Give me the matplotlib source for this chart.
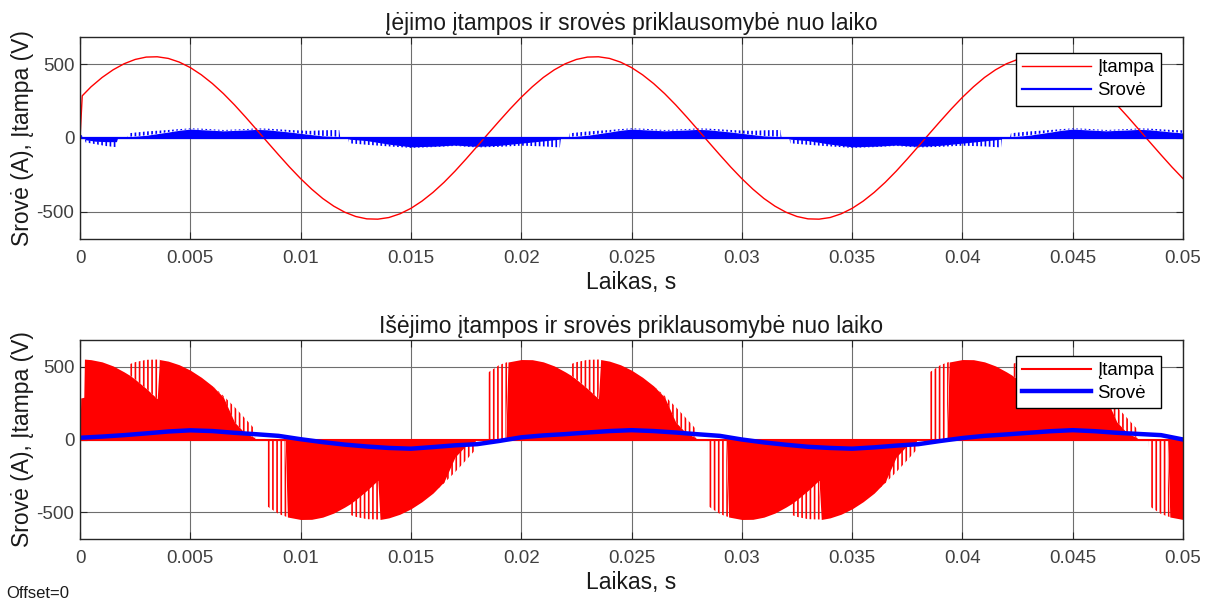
import numpy as np
import matplotlib
matplotlib.use('Agg')
import matplotlib.pyplot as plt

plt.rcParams['font.family'] = ['Liberation Sans', 'DejaVu Sans']
plt.rcParams['axes.unicode_minus'] = False
plt.rcParams['hatch.linewidth'] = 1.2

# ---- input voltage (top, red), read every 0.5 ms, with the start-up jump ----
vin_ms = [0.0, 0.1] + [0.5 * k for k in range(1, 101)]
vin = [0, 285,
       346, 409, 461, 502, 531, 547, 549, 538, 513, 476,
       427, 368, 300, 224, 142, 57, -29, -114, -197, -275,
       -346, -409, -461, -502, -531, -547, -549, -538, -513, -476,
       -427, -368, -300, -224, -142, -57, 29, 114, 197, 275,
       346, 409, 461, 502, 531, 547, 549, 538, 513, 476,
       427, 368, 300, 224, 142, 57, -29, -114, -197, -275,
       -346, -409, -461, -502, -531, -547, -549, -538, -513, -476,
       -427, -368, -300, -224, -142, -57, 29, 114, 197, 275,
       346, 409, 461, 502, 531, 547, 549, 538, 513, 476,
       427, 368, 300, 224, 142, 57, -29, -114, -197, -275]

# ---- input current (top, blue): pulse tops and solid part of the band ----
iin_ms = [0.0, 0.02, 0.15, 0.2, 0.25, 0.7, 1.2, 1.65, 1.7, 2.15,
          2.2, 3.0, 4.0, 4.5, 5.0, 5.5, 6.5, 7.5, 8.0, 8.5, 9.5, 10.4, 11.0, 11.75, 11.8, 12.15,
          12.2, 13.0, 14.0, 15.0, 16.0, 17.0, 18.0, 19.0, 20.0, 21.0, 21.75, 21.8, 22.15,
          22.2, 23.0, 24.0, 24.5, 25.0, 25.5, 26.5, 27.5, 28.0, 28.5, 29.5, 30.4, 31.0, 31.75, 31.8, 32.15,
          32.2, 33.0, 34.0, 35.0, 36.0, 37.0, 38.0, 39.0, 40.0, 41.0, 41.75, 41.8, 42.15,
          42.2, 43.0, 44.0, 44.5, 45.0, 45.5, 46.5, 47.5, 48.0, 48.5, 49.5, 50.0]
iin_peak = [0, 22, 15, 0, -30, -42, -55, -62, 0, 0,
            32, 44, 54, 60, 65, 63, 54, 60, 65, 63, 54, 48, 52, 54, 0, 0,
            -36, -46, -57, -67, -62, -54, -64, -60, -52, -57, -64, 0, 0,
            32, 44, 54, 60, 65, 63, 54, 60, 65, 63, 54, 48, 52, 54, 0, 0,
            -36, -46, -57, -67, -62, -54, -64, -60, -52, -57, -64, 0, 0,
            32, 44, 54, 60, 65, 63, 54, 60, 65, 63, 54, 52]
iin_fill = [0, 22, 0, 0, -12, -22, -25, -25, 0, 0,
            8, 18, 40, 52, 60, 56, 48, 54, 58, 55, 40, 24, 14, 8, 0, 0,
            -8, -18, -42, -60, -56, -48, -57, -50, -35, -20, -8, 0, 0,
            8, 18, 40, 52, 60, 56, 48, 54, 58, 55, 40, 24, 14, 8, 0, 0,
            -8, -18, -42, -60, -56, -48, -57, -50, -35, -20, -8, 0, 0,
            8, 18, 40, 52, 60, 56, 48, 54, 58, 55, 40, 34]

# ---- output voltage (bottom, red PWM): pulse tops and solid part ----
vout_ms = [0.0, 0.03, 0.17, 0.2, 0.5, 1.0, 1.5, 2.0, 2.24, 2.26, 2.5, 3.0, 3.5, 3.6,
           4.0, 4.5, 5.0, 5.5, 6.0, 6.5, 7.0, 7.5, 7.9, 7.95, 8.45,
           8.5, 9.0, 9.3, 9.4, 10.0, 10.5, 11.0, 11.5, 12.0, 12.24, 12.26, 12.5, 13.0, 13.5, 13.6,
           14.0, 14.5, 15.0, 15.5, 16.0, 16.5, 17.0, 17.5, 17.9, 17.95, 18.45,
           18.5, 19.0, 19.3, 19.4, 20.0, 20.5, 21.0, 21.5, 22.0, 22.24, 22.26, 22.5, 23.0, 23.5, 23.6,
           24.0, 24.5, 25.0, 25.5, 26.0, 26.5, 27.0, 27.5, 27.9, 27.95, 28.45,
           28.5, 29.0, 29.3, 29.4, 30.0, 30.5, 31.0, 31.5, 32.0, 32.24, 32.26, 32.5, 33.0, 33.5, 33.6,
           34.0, 34.5, 35.0, 35.5, 36.0, 36.5, 37.0, 37.5, 37.9, 37.95, 38.45,
           38.5, 39.0, 39.3, 39.4, 40.0, 40.5, 41.0, 41.5, 42.0, 42.24, 42.26, 42.5, 43.0, 43.5, 43.6,
           44.0, 44.5, 45.0, 45.5, 46.0, 46.5, 47.0, 47.5, 47.9, 47.95, 48.45,
           48.5, 49.0, 49.3, 49.4, 50.0]
vout_peak = [0, 285, 290, 552, 548, 533, 505, 464, 442, 518, 531, 547, 549, 549,
             538, 513, 476, 427, 368, 300, 224, 142, 75, 0, 0,
             -460, -511, -528, -532, -549, -548, -533, -505, -464, -442, -518, -531, -547, -549, -549,
             -538, -513, -476, -427, -368, -300, -224, -142, -75, 0, 0,
             460, 511, 528, 532, 549, 548, 533, 505, 464, 442, 518, 531, 547, 549, 549,
             538, 513, 476, 427, 368, 300, 224, 142, 75, 0, 0,
             -460, -511, -528, -532, -549, -548, -533, -505, -464, -442, -518, -531, -547, -549, -549,
             -538, -513, -476, -427, -368, -300, -224, -142, -75, 0, 0,
             460, 511, 528, 532, 549, 548, 533, 505, 464, 442, 518, 531, 547, 549, 549,
             538, 513, 476, 427, 368, 300, 224, 142, 75, 0, 0,
             -460, -511, -528, -532, -549]
vout_fill = [0, 285, 290, 552, 548, 533, 505, 464, 442, 440, 413, 350, 280, 549,
             538, 513, 476, 427, 368, 290, 120, 40, 15, 0, 0,
             0, 0, 0, -532, -549, -548, -533, -505, -464, -442, -440, -413, -350, -280, -549,
             -538, -513, -476, -427, -368, -290, -120, -40, -15, 0, 0,
             0, 0, 0, 532, 549, 548, 533, 505, 464, 442, 440, 413, 350, 280, 549,
             538, 513, 476, 427, 368, 290, 120, 40, 15, 0, 0,
             0, 0, 0, -532, -549, -548, -533, -505, -464, -442, -440, -413, -350, -280, -549,
             -538, -513, -476, -427, -368, -290, -120, -40, -15, 0, 0,
             0, 0, 0, 532, 549, 548, 533, 505, 464, 442, 440, 413, 350, 280, 549,
             538, 513, 476, 427, 368, 290, 120, 40, 15, 0, 0,
             0, 0, 0, -532, -549]

# ---- output current (bottom, thick blue), read every 1 ms ----
iout_ms = list(range(0, 51))
iout = [12, 20, 30, 42, 55, 63, 58, 46, 36, 25,
        2, -18, -35, -48, -58, -63, -52, -40, -32, -10,
        15, 28, 37, 48, 58, 64, 58, 48, 36, 25,
        0, -20, -36, -50, -58, -63, -54, -42, -32, -10,
        10, 25, 35, 46, 57, 64, 57, 46, 38, 30, 0]

xticks = [0, 0.005, 0.01, 0.015, 0.02, 0.025, 0.03, 0.035, 0.04, 0.045, 0.05]
xtick_labels = ['0', '0.005', '0.01', '0.015', '0.02', '0.025', '0.03', '0.035', '0.04', '0.045', '0.05']
yticks = [-500, 0, 500]


def s(ms):
    return np.array(ms) / 1000.0


def style(ax, title):
    ax.set_xlim(0, 0.05)
    ax.set_ylim(-683, 683)
    ax.set_xticks(xticks)
    ax.set_xticklabels(xtick_labels)
    ax.set_yticks(yticks)
    ax.set_axisbelow(True)
    ax.grid(True, color='#6e6e6e', lw=0.8)
    ax.tick_params(direction='in', top=True, right=True, length=5, width=0.8,
                   labelsize=13.5, labelcolor='#404040', color='#262626')
    ax.tick_params(axis='x', pad=8)
    ax.tick_params(axis='y', pad=4)
    for sp in ax.spines.values():
        sp.set_color('#262626')
        sp.set_linewidth(1.0)
    ax.set_title(title, fontsize=16.5, pad=5, color='#1a1a1a')
    ax.set_xlabel('Laikas, s', fontsize=16.5, labelpad=3, color='#1a1a1a')
    ax.set_ylabel('Srovė (A), Įtampa (V)', fontsize=16.5, labelpad=2, color='#1a1a1a')


def legend(ax):
    leg = ax.legend(loc='upper right', bbox_to_anchor=(0.98, 0.921), fontsize=13.4,
                    frameon=True, fancybox=False, edgecolor='black', framealpha=1,
                    handlelength=3.7, handletextpad=0.35, labelspacing=0.3,
                    borderpad=0.35, borderaxespad=0)
    leg.get_frame().set_linewidth(1.0)


fig = plt.figure(figsize=(12.18, 6.05), dpi=100)
ax1 = fig.add_axes([0.0657, 0.605, 0.9056, 0.3339])
ax2 = fig.add_axes([0.0657, 0.1091, 0.9056, 0.3289])

# top: input side
ax1.plot(s(vin_ms), vin, color='red', lw=1.0, label='Įtampa')
ax1.axhline(0, color='blue', lw=1.6, label='Srovė')
ax1.fill_between(s(iin_ms), 0, iin_fill, color='blue', lw=0)
ax1.fill_between(s(iin_ms), iin_fill, iin_peak, facecolor='none', edgecolor='blue',
                 hatch='||||', lw=0)
style(ax1, 'Įėjimo įtampos ir srovės priklausomybė nuo laiko')
legend(ax1)

# bottom: output side
ax2.axhline(0, color='red', lw=1.5, label='Įtampa')
ax2.fill_between(s(vout_ms), 0, vout_fill, color='red', lw=0)
ax2.fill_between(s(vout_ms), vout_fill, vout_peak, facecolor='none', edgecolor='red',
                 hatch='||||', lw=0)
ax2.plot(s(iout_ms), iout, color='blue', lw=3.2, label='Srovė')
style(ax2, 'Išėjimo įtampos ir srovės priklausomybė nuo laiko')
legend(ax2)

fig.text(0.005, 0.0198, 'Offset=0', fontsize=12, va='center', color='#1a1a1a')

fig.savefig('out.png', dpi=100)
